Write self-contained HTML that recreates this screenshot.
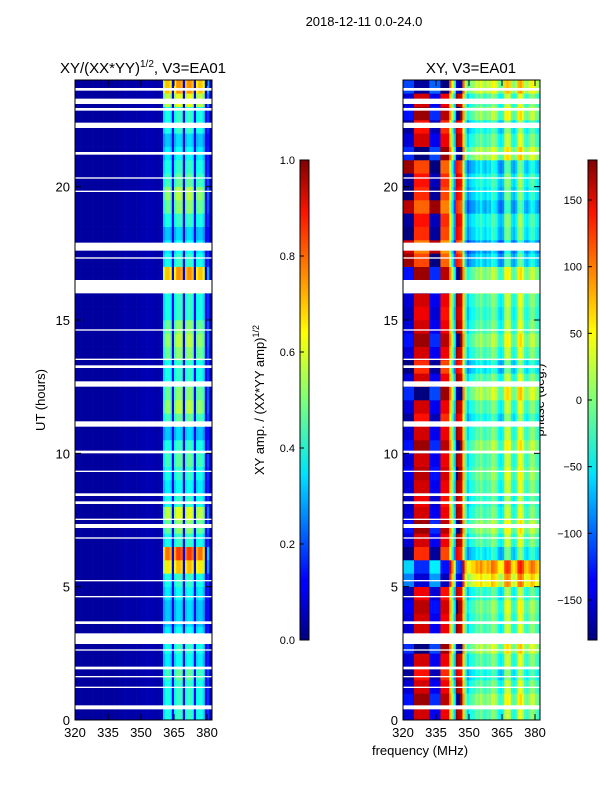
<!DOCTYPE html>
<html><head><meta charset="utf-8"><style>
body{margin:0;background:#fff;font-family:"Liberation Sans",sans-serif}
svg text{font-family:"Liberation Sans",sans-serif;fill:#000}
</style></head><body>
<svg id="fig" width="600" height="800" xmlns="http://www.w3.org/2000/svg">
<rect width="600" height="800" fill="#fff"/>
<text x="364" y="26" font-size="13" text-anchor="middle">2018-12-11 0.0-24.0</text>
<text x="143" y="73" font-size="15" text-anchor="middle">XY/(XX*YY)<tspan font-size="10" dy="-6">1/2</tspan><tspan dy="6">, V3=EA01</tspan></text>
<text x="471" y="73" font-size="15" text-anchor="middle">XY, V3=EA01</text>
<text transform="translate(45,400) rotate(-90)" font-size="13" text-anchor="middle">UT (hours)</text>
<text x="420" y="755" font-size="13" text-anchor="middle">frequency (MHz)</text>
<text transform="translate(264,400) rotate(-90)" font-size="13" text-anchor="middle">XY amp. / (XX*YY amp)<tspan font-size="9" dy="-5">1/2</tspan></text>
<text transform="translate(544,400) rotate(-90)" font-size="13" text-anchor="middle">phase (deg.)</text>
<g id="leftHeat"></g>
<g id="rightHeat"></g>
<g id="axes"></g>
<defs>
<linearGradient id="jet" x1="0" y1="1" x2="0" y2="0">
<stop offset="0" stop-color="#000080"/><stop offset="0.11" stop-color="#0000ff"/><stop offset="0.125" stop-color="#0000ff"/>
<stop offset="0.34" stop-color="#00dcff"/><stop offset="0.35" stop-color="#00e5f8"/><stop offset="0.5" stop-color="#7dff7a"/>
<stop offset="0.64" stop-color="#ffff00"/><stop offset="0.66" stop-color="#ffea00"/><stop offset="0.89" stop-color="#ff1300"/><stop offset="1" stop-color="#800000"/>
</linearGradient></defs>
<rect x="300" y="160" width="9" height="480" fill="url(#jet)" stroke="#000"/>
<rect x="588" y="160" width="9" height="480" fill="url(#jet)" stroke="#000"/>
<g id="cbars"></g>
</svg>
<script>
const freqStart = 320;           // MHz, 1 MHz per channel
const timeStep = 0.5;            // hours per row
const ampChan = [0.03,0.03,0.03,0.03,0.03,0.03,0.03,0.03,0.03,0.03,0.03,0.03,0.03,0.03,0.03,0.03,0.03,0.03,0.03,0.03,0.04,0.04,0.04,0.04,0.04,0.04,0.04,0.04,0.04,0.04,0.05,0.05,0.05,0.05,0.05,0.05,0.04,0.04,0.04,0.08,0.6,0.7,0.7,0.65,0.12,0.65,0.75,0.75,0.72,0.12,0.7,0.75,0.75,0.7,0.12,0.65,0.7,0.7,0.6,0.1,0.3,0.05];
const ampRowGain = [0.5,0.5,0.5,0.55,0.45,0.5,0.45,0.4,0.4,0.45,0.5,0.8,0.95,0.5,0.6,0.7,0.5,0.45,0.5,0.55,0.5,0.4,0.55,0.65,0.6,0.5,0.5,0.6,0.65,0.6,0.5,0.5,0.7,0.85,0.5,0.45,0.4,0.5,0.6,0.65,0.55,0.5,0.45,0.4,0.5,0.5,0.7,0.85];
const phaseChan = [-150,-150,-150,-150,-150,150,150,150,150,150,150,150,-140,-140,-140,-140,-140,140,140,140,140,60,0,-60,170,160,150,60,-20,-60,-40,-30,-30,-10,-20,0,-20,-30,-10,-20,10,0,-10,-40,-50,-40,20,30,20,-30,-40,-20,30,40,20,-20,-30,-10,10,0,-20,-30];
const phaseRowShift = [0,20,0,-20,0,30,0,0,10,-10,60,90,-30,0,20,0,-10,0,10,0,20,0,-20,0,30,0,-30,0,20,0,-10,0,40,20,-40,-60,-30,-20,-50,-30,-20,-40,30,0,-20,20,0,40];
const flagStart = [23.6,23.1,22.85,22.2,21.2,20.3,19.8,17.6,17.3,16.0,14.6,13.5,13.2,12.5,11.0,10.0,9.3,8.4,8.1,7.5,7.2,6.8,5.2,4.6,3.6,2.85,2.6,1.9,1.6,1.2,0.4];
const flagEnd   = [23.7,23.3,22.95,22.4,21.3,20.35,19.85,17.9,17.35,16.5,14.65,13.55,13.3,12.7,11.2,10.1,9.35,8.5,8.2,7.55,7.35,6.85,5.25,4.65,3.7,3.25,2.65,2.0,1.65,1.25,0.55];
const xTicks = [320,335,350,365,380];
const yTicks = [0,5,10,15,20];
const ampTicks = [0.0,0.2,0.4,0.6,0.8,1.0];
const phaseTicks = [-150,-100,-50,0,50,100,150];

const NS="http://www.w3.org/2000/svg";
const PX=2.2, TY=26.667, Y0=720;
function xs(left,f){return left+(f-320)*PX;}
function ys(t){return Y0-t*TY;}
function jet(v){v=Math.max(0,Math.min(1,v));
 const r=Math.max(0,Math.min(1,1.5-Math.abs(4*v-3))),g=Math.max(0,Math.min(1,1.5-Math.abs(4*v-2))),b=Math.max(0,Math.min(1,1.5-Math.abs(4*v-1)));
 return `rgb(${r*255|0},${g*255|0},${b*255|0})`;}
function mk(tag,attrs,parent){const e=document.createElementNS(NS,tag);for(const k in attrs)e.setAttribute(k,attrs[k]);parent.appendChild(e);return e;}
const L=document.getElementById('leftHeat'),R=document.getElementById('rightHeat');
for(let r=0;r<ampRowGain.length;r++){
 const t0=r*timeStep, y=ys(t0+timeStep), h=timeStep*TY;
 for(let c=0;c<ampChan.length;c++){
  const f=freqStart+c;
  const a=ampChan[c]>0.25?Math.min(1,ampChan[c]*ampRowGain[r]*1.15):ampChan[c];
  const w=Math.min(PX,(382.3-f)*PX);
  const e1=mk('rect',{x:xs(75,f),y:y,width:w+0.3,height:h+0.3,fill:jet(a)},L);
  
  
  let p=phaseChan[c]+phaseRowShift[r]; p=((p+180)%360+360)%360-180;
  const e2=mk('rect',{x:xs(403,f),y:y,width:w+0.3,height:h+0.3,fill:jet((p+180)/360)},R);
  
  
 }
}
const A=document.getElementById('axes');
for(let i=0;i<flagStart.length;i++){
 for(const left of [75,403]){
  const e=mk('rect',{x:left,y:ys(flagEnd[i]),width:137,height:(flagEnd[i]-flagStart[i])*TY,fill:'#fff'},A);
  
  
 }
}
for(const left of [75,403]){
 const fr=mk('rect',{x:left,y:80,width:137,height:640,fill:'none',stroke:'#000','stroke-width':1},A);
 
 
 for(const v of xTicks){const x=xs(left,v);
  mk('line',{x1:x,x2:x,y1:720,y2:714,stroke:'#000'},A);mk('line',{x1:x,x2:x,y1:80,y2:86,stroke:'#000'},A);
  const t=mk('text',{x:x,y:737,'font-size':13,'text-anchor':'middle'},A);t.textContent=v;
  
  }
 for(const v of yTicks){const y=ys(v);
  mk('line',{x1:left,x2:left+6,y1:y,y2:y,stroke:'#000'},A);mk('line',{x1:left+137,x2:left+131,y1:y,y2:y,stroke:'#000'},A);
  const t=mk('text',{x:left-5,y:y+5,'font-size':13,'text-anchor':'end'},A);t.textContent=v;
  
  }
}
const C=document.getElementById('cbars');
for(const v of ampTicks){const y=640-v*480;
 mk('line',{x1:300,x2:304,y1:y,y2:y,stroke:'#000'},C);
 const t=mk('text',{x:295,y:y+4,'font-size':11,'text-anchor':'end'},C);t.textContent=v.toFixed(1);
 
 }
for(const v of phaseTicks){const y=400-v*480/360;
 mk('line',{x1:588,x2:592,y1:y,y2:y,stroke:'#000'},C);
 const t=mk('text',{x:582,y:y+4,'font-size':11,'text-anchor':'end'},C);t.textContent=v<0?'\u2212'+(-v):v;
 
 }
</script>
</body></html>
